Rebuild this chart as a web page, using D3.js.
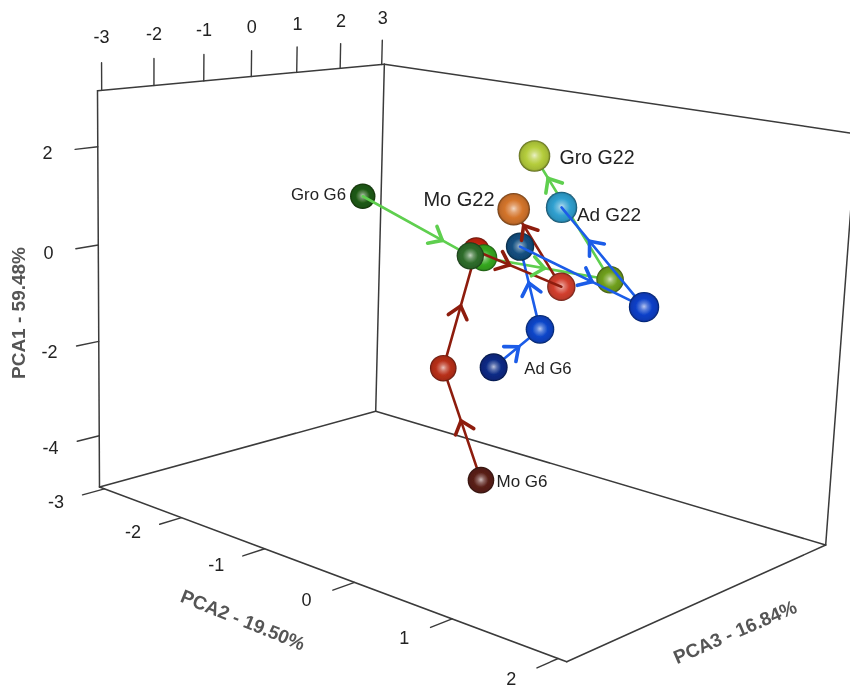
<!DOCTYPE html>
<html>
<head>
<meta charset="utf-8">
<style>
    html, body { margin: 0; padding: 0; background: #fff; }
    svg { display: block; }
    text { font-family: "Liberation Sans", Arial, sans-serif; }
</style>
<script src="https://d3js.org/d3.v7.min.js"></script>
</head>
<body>
<div id="chart"></div>
<script>
// Time course of three conditions in PCA space, five time points each
const pca1Green = [0.60, 0.11, -0.04, -0.18, 2.99];
const pca2Green = [-2.34, -0.66, -0.73, 0.33, 1.02];
const pca3Green = [1.26, 0.48, 0.94, 1.62, -1.80];
const colorsGreen = ["#1f5a14", "#2f6d2b", "#35a820", "#6f9f1c", "#b5cd3c"];

const pca1Red = [-4.66, -2.43, 0.21, -0.10, 2.28];
const pca2Red = [-0.60, -1.00, -0.63, 0.32, 1.26];
const pca3Red = [0.79, 0.64, 0.55, 0.48, -2.70];
const colorsRed = ["#5a2019", "#b8301a", "#c42410", "#d23f2e", "#d4752c"];

const pca1Blue = [-1.82, -0.85, 0.63, 0.18, 2.10];
const pca2Blue = [-0.13, 0.32, 0.02, 1.47, 1.18];
const pca3Blue = [-0.01, 0.03, 0.16, -0.32, -1.55];
const colorsBlue = ["#0a2a85", "#0a45c8", "#134f80", "#0a3fc8", "#30a0d0"];

const pca1Ticks = [2, 0, -2, -4];
const pca2Ticks = [-3, -2, -1, 0, 1, 2];
const pca3Ticks = [-3, -2, -1, 0, 1, 2, 3];

const width = 850;
const height = 689;

// Axis ranges of the box
const scale1 = d3.scaleLinear().domain([-5.104, 3.121]).range([0, 1]);
const scale2 = d3.scaleLinear().domain([-3.066, 2.077]).range([0, 1]);
const scale3 = d3.scaleLinear().domain([-3.078, 3.065]).range([0, 1]);

// Perspective camera: image of the box origin and of the three unit edges, with their weights
const origin = [99.5, 487, 1];
const edge2 = [566.7, 661.7, 0.8147];
const edge3 = [375.7, 411.3, 1.1449];
const edge1 = [97.5, 90.7, 0.9585];

function project(p1, p2, p3) {
    const t1 = scale1(p1), t2 = scale2(p2), t3 = scale3(p3);
    const h = 1 + t2 * (edge2[2] - 1) + t3 * (edge3[2] - 1) + t1 * (edge1[2] - 1);
    const x = origin[0] + t2 * (edge2[0] * edge2[2] - origin[0]) + t3 * (edge3[0] * edge3[2] - origin[0]) + t1 * (edge1[0] * edge1[2] - origin[0]);
    const y = origin[1] + t2 * (edge2[1] * edge2[2] - origin[1]) + t3 * (edge3[1] * edge3[2] - origin[1]) + t1 * (edge1[1] * edge1[2] - origin[1]);
    return { x: x / h, y: y / h, r: 13.3 / h };
}

const min1 = scale1.domain()[0], max1 = scale1.domain()[1];
const min2 = scale2.domain()[0], max2 = scale2.domain()[1];
const min3 = scale3.domain()[0], max3 = scale3.domain()[1];

const series = [
    { key: "g", line: "#5fcf4f", colors: colorsGreen, pts: pca1Green.map((d, i) => project(d, pca2Green[i], pca3Green[i])), arrows: [0.74, null, 0.48, 0.82] },
    { key: "r", line: "#8e1f10", colors: colorsRed, pts: pca1Red.map((d, i) => project(d, pca2Red[i], pca3Red[i])), arrows: [0.53, 0.53, 0.39, 0.79] },
    { key: "b", line: "#1a5ce8", colors: colorsBlue, pts: pca1Blue.map((d, i) => project(d, pca2Blue[i], pca3Blue[i])), arrows: [0.54, 0.56, 0.58, 0.66] }
];
const byKey = Object.fromEntries(series.map(s => [s.key, s]));

// Paint order, back to front: "g0" is a sphere, "g0-1" the segment leaving it
const drawOrder = [
    "g0", "g0-1", "g1-2", "g2-3", "g3-4", "r0-1", "r1-2", "r3-4", "b0-1", "b1-2",
    "r0", "r1", "b0", "b1", "g3", "r3", "r4", "r2", "g2", "r2-3",
    "b2", "b2-3", "g4", "b4", "b3-4", "b3", "g1"
];

const svg = d3.select("#chart").append("svg")
    .attr("width", width)
    .attr("height", height);

const defs = svg.append("defs");
defs.append("filter").attr("id", "soft")
    .attr("filterUnits", "userSpaceOnUse")
    .attr("x", 0).attr("y", 0)
    .attr("width", width).attr("height", height)
    .append("feGaussianBlur").attr("stdDeviation", 0.45);

const root = svg.append("g").attr("filter", "url(#soft)");

// Box frame
const frame = [
    [[min1, min2, max3], [min1, max2, max3]],
    [[min1, min2, min3], [min1, min2, max3]],
    [[min1, min2, min3], [min1, max2, min3]],
    [[min1, max2, min3], [min1, max2, max3]],
    [[max1, min2, min3], [max1, min2, max3]],
    [[max1, min2, max3], [max1, max2, max3]],
    [[min1, min2, min3], [max1, min2, min3]],
    [[min1, min2, max3], [max1, min2, max3]],
    [[min1, max2, max3], [max1, max2, max3]]
];
const segLine = (g, a, b, color, w) => g.append("line")
    .attr("x1", a.x).attr("y1", a.y).attr("x2", b.x).attr("y2", b.y)
    .attr("stroke", color).attr("stroke-width", w).attr("stroke-linecap", "round");

const axes = root.append("g");
frame.forEach(f => segLine(axes, project(...f[0]), project(...f[1]), "#3a3a3a", 1.5));

// Ticks and labels
const tickLabel = (p, txt) => axes.append("text")
    .attr("x", p.x).attr("y", p.y)
    .attr("text-anchor", "middle").attr("dominant-baseline", "central")
    .attr("font-size", 18).attr("fill", "#222").text(txt);

const tickLen3 = 0.42, labelOff3 = 0.92;
pca1Ticks.forEach(t => {
    segLine(axes, project(t, min2, min3), project(t, min2, min3 - tickLen3), "#3a3a3a", 1.4);
    tickLabel(project(t, min2, min3 - labelOff3), t);
});
pca2Ticks.forEach(t => {
    segLine(axes, project(min1, t, min3), project(min1, t, min3 - tickLen3), "#3a3a3a", 1.4);
    tickLabel(project(min1, t, min3 - labelOff3), t);
});
pca3Ticks.forEach(t => {
    segLine(axes, project(max1, min2, t), project(max1 + 0.55, min2, t), "#3a3a3a", 1.4);
    tickLabel(project(max1 + 1.05, min2, t), t);
});

// Axis titles
const title = (x, y, angle, txt) => root.append("text")
    .attr("transform", `translate(${x},${y}) rotate(${angle})`)
    .attr("text-anchor", "middle").attr("dominant-baseline", "central")
    .attr("font-size", 19).attr("font-weight", "bold").attr("fill", "#555")
    .text(txt);
title(18, 313, -90, "PCA1 - 59.48%");
title(243, 620, 22, "PCA2 - 19.50%");
title(735, 632, -23.4, "PCA3 - 16.84%");

// Sphere shading, one gradient per colour
function addGradient(id, base) {
    const white = d3.interpolateRgb(base, "#fff");
    const dark = d3.interpolateRgb(base, "#000");
    const grad = defs.append("radialGradient").attr("id", id)
        .attr("cx", "50%").attr("cy", "50%").attr("r", "50%")
        .attr("fx", "50%").attr("fy", "48%");
    [[0, white(0.7)], [0.24, white(0.32)], [0.55, base], [0.86, dark(0.1)], [1, dark(0.5)]]
        .forEach(s => grad.append("stop").attr("offset", s[0]).attr("stop-color", s[1]));
}
series.forEach(s => s.colors.forEach((c, i) => addGradient(`ball-${s.key}${i}`, c)));

const marks = root.append("g");
drawOrder.forEach(item => {
    const s = byKey[item[0]];
    if (item.includes("-")) {
        const i = +item[1], j = +item[3];
        segLine(marks, s.pts[i], s.pts[j], s.line, 2.6);
    } else {
        const i = +item[1], p = s.pts[i];
        marks.append("circle")
            .attr("cx", p.x).attr("cy", p.y).attr("r", p.r)
            .attr("fill", `url(#ball-${item})`);
    }
});

// Arrow heads sit on top of everything
const barbLen = 15, barbAngle = 40 * Math.PI / 180;
series.forEach(s => s.arrows.forEach((f, i) => {
    if (f === null) return;
    const a = s.pts[i], b = s.pts[i + 1];
    const tip = { x: a.x + f * (b.x - a.x), y: a.y + f * (b.y - a.y) };
    const back = Math.atan2(a.y - b.y, a.x - b.x);
    [-1, 1].forEach(side => {
        const end = { x: tip.x + barbLen * Math.cos(back + side * barbAngle), y: tip.y + barbLen * Math.sin(back + side * barbAngle) };
        segLine(marks, tip, end, s.line, 3.6);
    });
}));

// Point labels
const pointLabels = [
    ["Gro G6", 318.5, 194, 16.8],
    ["Mo G6", 522, 481, 17],
    ["Ad G6", 548, 368, 16.7],
    ["Gro G22", 597, 157, 19.6],
    ["Mo G22", 459, 199, 20],
    ["Ad G22", 609, 214, 18.9]
];
pointLabels.forEach(l => root.append("text")
    .attr("x", l[1]).attr("y", l[2])
    .attr("text-anchor", "middle").attr("dominant-baseline", "central")
    .attr("font-size", l[3]).attr("fill", "#222")
    .text(l[0]));
</script>
</body>
</html>
